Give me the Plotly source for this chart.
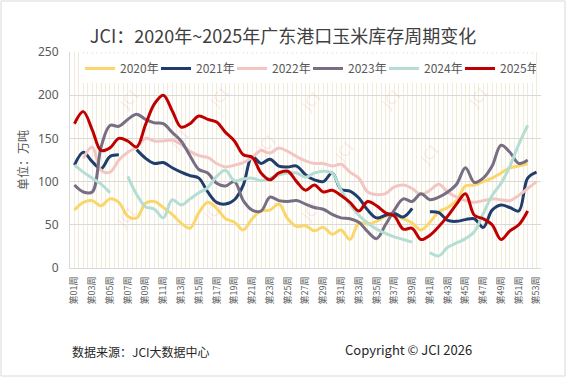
import plotly.graph_objects as go

weeks = [f"第{i:02d}周" for i in range(1, 54)]
week_pos = list(range(1, 54))

y2020 = [67,76,78,72,80,76,60,58,75,77,70,62,52,46,64,76,69,57,53,44,57,66,67,74,57,48,49,43,47,39,44,33,52,51,54,60,61,57,52,44,53,65,70,78,95,96,100,104,110,116,118,121,None]
y2021 = [119,134,123,115,129,131,None,137,127,121,122,116,111,107,104,88,76,74,79,96,129,121,126,118,117,118,108,102,100,110,91,89,81,67,58,61,63,59,69,None,65,64,55,54,56,57,47,67,73,70,66,104,111]
y2022 = [None,127,140,113,111,125,134,140,150,147,147,148,143,135,130,128,121,117,119,122,128,136,133,139,135,129,124,121,121,118,120,111,104,88,85,86,94,96,92,85,90,97,88,82,78,76,78,80,79,78,84,92,100]
y2023 = [96,88,88,140,165,164,172,178,172,168,167,157,147,130,114,110,98,95,100,78,67,66,82,78,77,78,74,70,68,62,58,57,53,42,34,50,67,80,77,86,79,82,88,97,116,99,104,118,142,134,121,125,None]
y2024 = [119,111,104,97,87,None,106,85,71,68,58,79,73,80,87,93,106,113,101,103,104,101,104,108,110,110,105,110,112,110,90,74,61,52,45,40,36,33,30,None,18,14,24,29,34,42,63,84,98,118,143,165,None]
y2025 = [167,181,160,136,139,150,147,140,166,190,200,182,163,167,176,172,169,157,147,131,128,110,102,110,112,100,90,96,88,90,84,76,66,77,72,64,60,45,46,33,38,48,60,74,86,61,57,50,33,43,50,66,None]

series_names = ["2020年", "2021年", "2022年", "2023年", "2024年", "2025年"]
series_values = [y2020, y2021, y2022, y2023, y2024, y2025]
series_colors = ["#FAD66B", "#1F3E6C", "#F2C6C2", "#776E84", "#B4DDD4", "#C00000"]

y_ticks = [0, 50, 100, 150, 200, 250]

fig = go.Figure()
for name, vals, col in zip(series_names, series_values, series_colors):
    fig.add_trace(go.Scatter(
        x=week_pos, y=vals, name=name, mode="lines",
        line=dict(color=col, width=3, shape="spline", smoothing=1.0),
        connectgaps=False,
    ))

# plot area pixel geometry
L, R, T, B = 70, 25, 52, 109
W, H = 566, 377
pw, ph = W - L - R, H - T - B

def px(xp):
    return (xp - L) / pw

def py(yp):
    return (H - B - yp) / ph

annotations = []
# watermarks
wm = [(128, 100), (218, 98), (310, 102), (390, 100), (477, 98),
      (178, 140), (265, 145), (343, 152), (428, 155),
      (125, 218), (212, 212), (310, 212)]
for (wx, wy) in wm:
    annotations.append(dict(x=px(wx), y=py(wy), xref="paper", yref="paper",
                            xanchor="center", yanchor="middle",
                            text="JCI", showarrow=False, textangle=-50,
                            font=dict(size=15, color="rgba(235,160,160,0.22)",
                                      family="Noto Sans")))

annotations += [
    dict(x=px(22), y=0.5, xref="paper", yref="paper", text="单位：万吨",
         textangle=-90, showarrow=False, xanchor="center", yanchor="middle",
         font=dict(size=12, color="#595959", family="Noto Sans CJK SC")),
    dict(x=px(70), y=py(351), xref="paper", yref="paper", xanchor="left", yanchor="middle",
         text="数据来源：JCI大数据中心", showarrow=False,
         font=dict(size=12, color="#262626", family="Noto Sans CJK SC")),
    dict(x=px(343), y=py(349), xref="paper", yref="paper", xanchor="left", yanchor="middle",
         text="Copyright © JCI 2026", showarrow=False,
         font=dict(size=13, color="#262626", family="Noto Sans CJK SC")),
]

shapes = [
    dict(type="rect", xref="paper", yref="paper",
         x0=px(1), x1=px(565), y0=py(376), y1=py(1),
         line=dict(color="#D9D9D9", width=1), fillcolor="rgba(0,0,0,0)", layer="below"),
    dict(type="rect", xref="paper", yref="paper",
         x0=px(97), x1=px(472), y0=py(58), y1=py(40),
         line=dict(width=0), fillcolor="white", layer="between"),
]

fig.update_layout(
    width=W, height=H,
    margin=dict(l=L, r=R, t=T, b=B),
    paper_bgcolor="white", plot_bgcolor="white",
    title=dict(text="JCI：2020年~2025年广东港口玉米库存周期变化",
               x=0.5, xanchor="center", y=1 - 37 / H, yanchor="middle",
               font=dict(size=18, color="#404040", family="Noto Sans CJK SC")),
    font=dict(family="Noto Sans CJK SC", color="#595959"),
    legend=dict(orientation="h", x=px(80), y=py(54), xanchor="left", yanchor="top",
                bgcolor="white", font=dict(size=12, color="#595959"),
                itemwidth=30, entrywidth=31, entrywidthmode="pixels"),
    annotations=annotations,
    shapes=shapes,
    showlegend=True,
)

fig.update_xaxes(
    range=[0.5, 53.5], tickmode="array", tickvals=week_pos[::2], ticktext=weeks[::2],
    tickangle=-90, tickfont=dict(size=9, color="#595959", family="Noto Sans CJK SC"),
    showgrid=False, zeroline=False, showline=True, linecolor="#D9D9D9", linewidth=1,
    ticks="", ticklabelstandoff=4,
    minor=dict(dtick=0.5, tick0=0.5, showgrid=True, gridcolor="#F1ECD8", gridwidth=1),
)
fig.update_yaxes(
    range=[0, 250], tickmode="array", tickvals=y_ticks,
    tickfont=dict(size=12, color="#595959", family="Noto Sans"),
    showgrid=True, gridcolor="#D9D9D9", gridwidth=1, zeroline=False,
    showline=True, linecolor="#D9D9D9", ticks="", ticklabelstandoff=8,
)

fig.write_html("out.html", post_script="document.body.style.margin='0';",
               config={"displayModeBar": False})
